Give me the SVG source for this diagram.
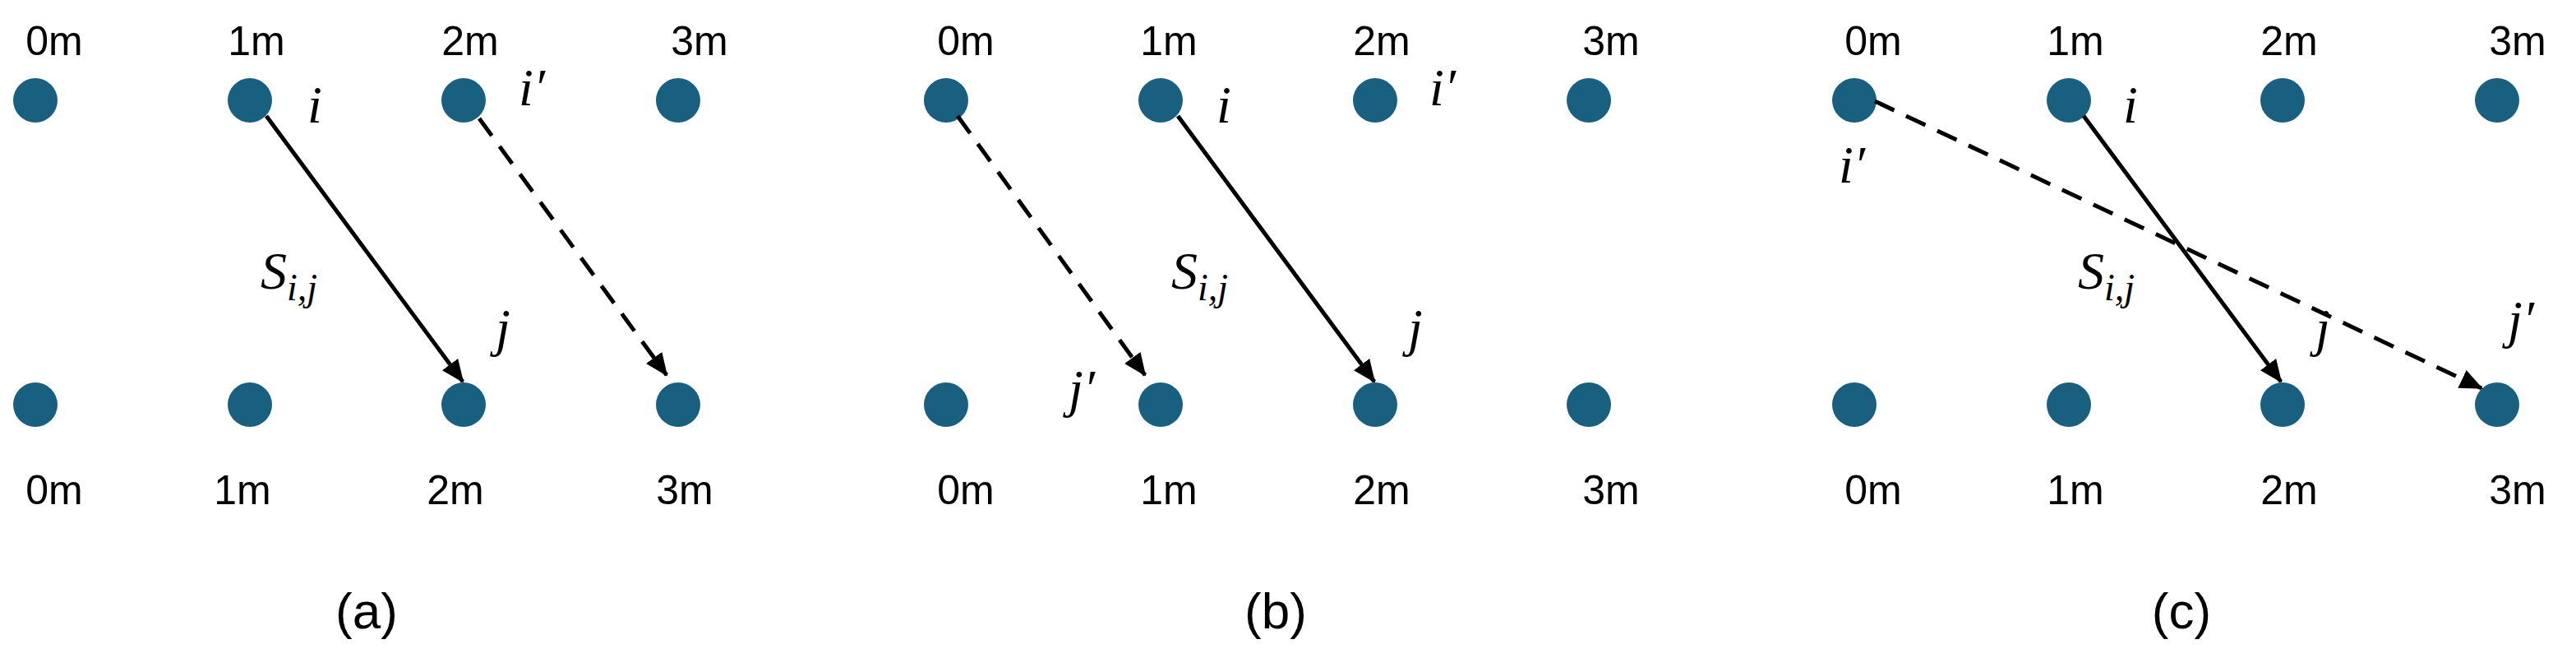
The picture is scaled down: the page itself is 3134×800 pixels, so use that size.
<svg xmlns="http://www.w3.org/2000/svg" width="3134" height="800" viewBox="0 0 3134 800">
<style>
.dot{fill:#185F80}
.lbl{font-family:"Liberation Sans",Arial,sans-serif;font-size:50px;fill:#000;text-anchor:middle}
.cap{font-family:"Liberation Sans",Arial,sans-serif;font-size:62px;fill:#000;text-anchor:middle}
.m{font-family:"Liberation Serif","Times New Roman",serif;font-style:italic;font-size:64px;fill:#000}
.mc{text-anchor:middle}
.sub{font-size:46px}
.sol{stroke:#000;stroke-width:5;fill:none;marker-end:url(#ah)}
.das{stroke:#000;stroke-width:5;fill:none;stroke-dasharray:26 16;marker-end:url(#ah)}
</style>
<defs>
<marker id="ah" markerUnits="userSpaceOnUse" viewBox="0 0 28 24" refX="26" refY="12" markerWidth="28" markerHeight="24" orient="auto">
<path d="M0,0 L28,12 L0,24 Z" fill="#000"/>
</marker>
</defs>
<rect width="3134" height="800" fill="#fff"/>
<g id="panel-a">
<g id="a-dots">
<circle class="dot" cx="43" cy="122" r="27"/><circle class="dot" cx="304" cy="122" r="27"/><circle class="dot" cx="564" cy="122" r="27"/><circle class="dot" cx="825" cy="122" r="27"/>
<circle class="dot" cx="43" cy="492" r="27"/><circle class="dot" cx="304" cy="492" r="27"/><circle class="dot" cx="564" cy="492" r="27"/><circle class="dot" cx="825" cy="492" r="27"/>
</g>
<g id="a-labels">
<text class="lbl" x="66" y="67">0m</text><text class="lbl" x="312" y="67">1m</text><text class="lbl" x="572" y="67">2m</text><text class="lbl" x="851" y="67">3m</text>
<text class="lbl" x="66" y="613">0m</text><text class="lbl" x="295" y="613">1m</text><text class="lbl" x="554" y="613">2m</text><text class="lbl" x="833" y="613">3m</text>
<text class="cap" x="446" y="764">(a)</text>
<text class="m mc" x="383" y="149">i</text>
<text class="m mc" x="647" y="128">i′</text>
<text class="m" x="317" y="351">S<tspan class="sub" dy="14">i,j</tspan></text>
<text class="m mc" x="612" y="420">j</text>
</g>
</g>
<g id="panel-b">
<g id="b-dots">
<circle class="dot" cx="1151" cy="122" r="27"/><circle class="dot" cx="1412" cy="122" r="27"/><circle class="dot" cx="1673" cy="122" r="27"/><circle class="dot" cx="1933" cy="122" r="27"/>
<circle class="dot" cx="1151" cy="492" r="27"/><circle class="dot" cx="1412" cy="492" r="27"/><circle class="dot" cx="1673" cy="492" r="27"/><circle class="dot" cx="1933" cy="492" r="27"/>
</g>
<g id="b-labels">
<text class="lbl" x="1175" y="67">0m</text><text class="lbl" x="1422" y="67">1m</text><text class="lbl" x="1681" y="67">2m</text><text class="lbl" x="1960" y="67">3m</text>
<text class="lbl" x="1175" y="613">0m</text><text class="lbl" x="1422" y="613">1m</text><text class="lbl" x="1681" y="613">2m</text><text class="lbl" x="1960" y="613">3m</text>
<text class="cap" x="1552" y="764">(b)</text>
<text class="m mc" x="1489" y="149">i</text>
<text class="m mc" x="1755" y="128">i′</text>
<text class="m" x="1425" y="351">S<tspan class="sub" dy="14">i,j</tspan></text>
<text class="m mc" x="1722" y="420">j</text>
<text class="m mc" x="1316" y="494">j′</text>
</g>
</g>
<g id="panel-c">
<g id="c-dots">
<circle class="dot" cx="2256" cy="122" r="27"/><circle class="dot" cx="2517" cy="122" r="27"/><circle class="dot" cx="2777" cy="122" r="27"/><circle class="dot" cx="3038" cy="122" r="27"/>
<circle class="dot" cx="2256" cy="492" r="27"/><circle class="dot" cx="2517" cy="492" r="27"/><circle class="dot" cx="2777" cy="492" r="27"/><circle class="dot" cx="3038" cy="492" r="27"/>
</g>
<g id="c-labels">
<text class="lbl" x="2279" y="67">0m</text><text class="lbl" x="2525" y="67">1m</text><text class="lbl" x="2785" y="67">2m</text><text class="lbl" x="3063" y="67">3m</text>
<text class="lbl" x="2279" y="613">0m</text><text class="lbl" x="2525" y="613">1m</text><text class="lbl" x="2785" y="613">2m</text><text class="lbl" x="3063" y="613">3m</text>
<text class="cap" x="2654" y="764">(c)</text>
<text class="m mc" x="2592" y="149">i</text>
<text class="m mc" x="2253" y="222">i′</text>
<text class="m" x="2528" y="351">S<tspan class="sub" dy="14">i,j</tspan></text>
<text class="m mc" x="2826" y="420">j</text>
<text class="m mc" x="3067" y="410">j′</text>
</g>
</g>
<g id="connectors">
<line class="sol" x1="324" y1="141" x2="563" y2="464"/>
<line class="das" x1="583" y1="144" x2="811" y2="456"/>
<line class="sol" x1="1433" y1="141" x2="1672" y2="464"/>
<line class="das" x1="1165" y1="141" x2="1393" y2="456"/>
<line class="sol" x1="2535" y1="141" x2="2775" y2="464"/>
<line class="das" x1="2281" y1="123" x2="3019" y2="472"/>
</g>
</svg>
